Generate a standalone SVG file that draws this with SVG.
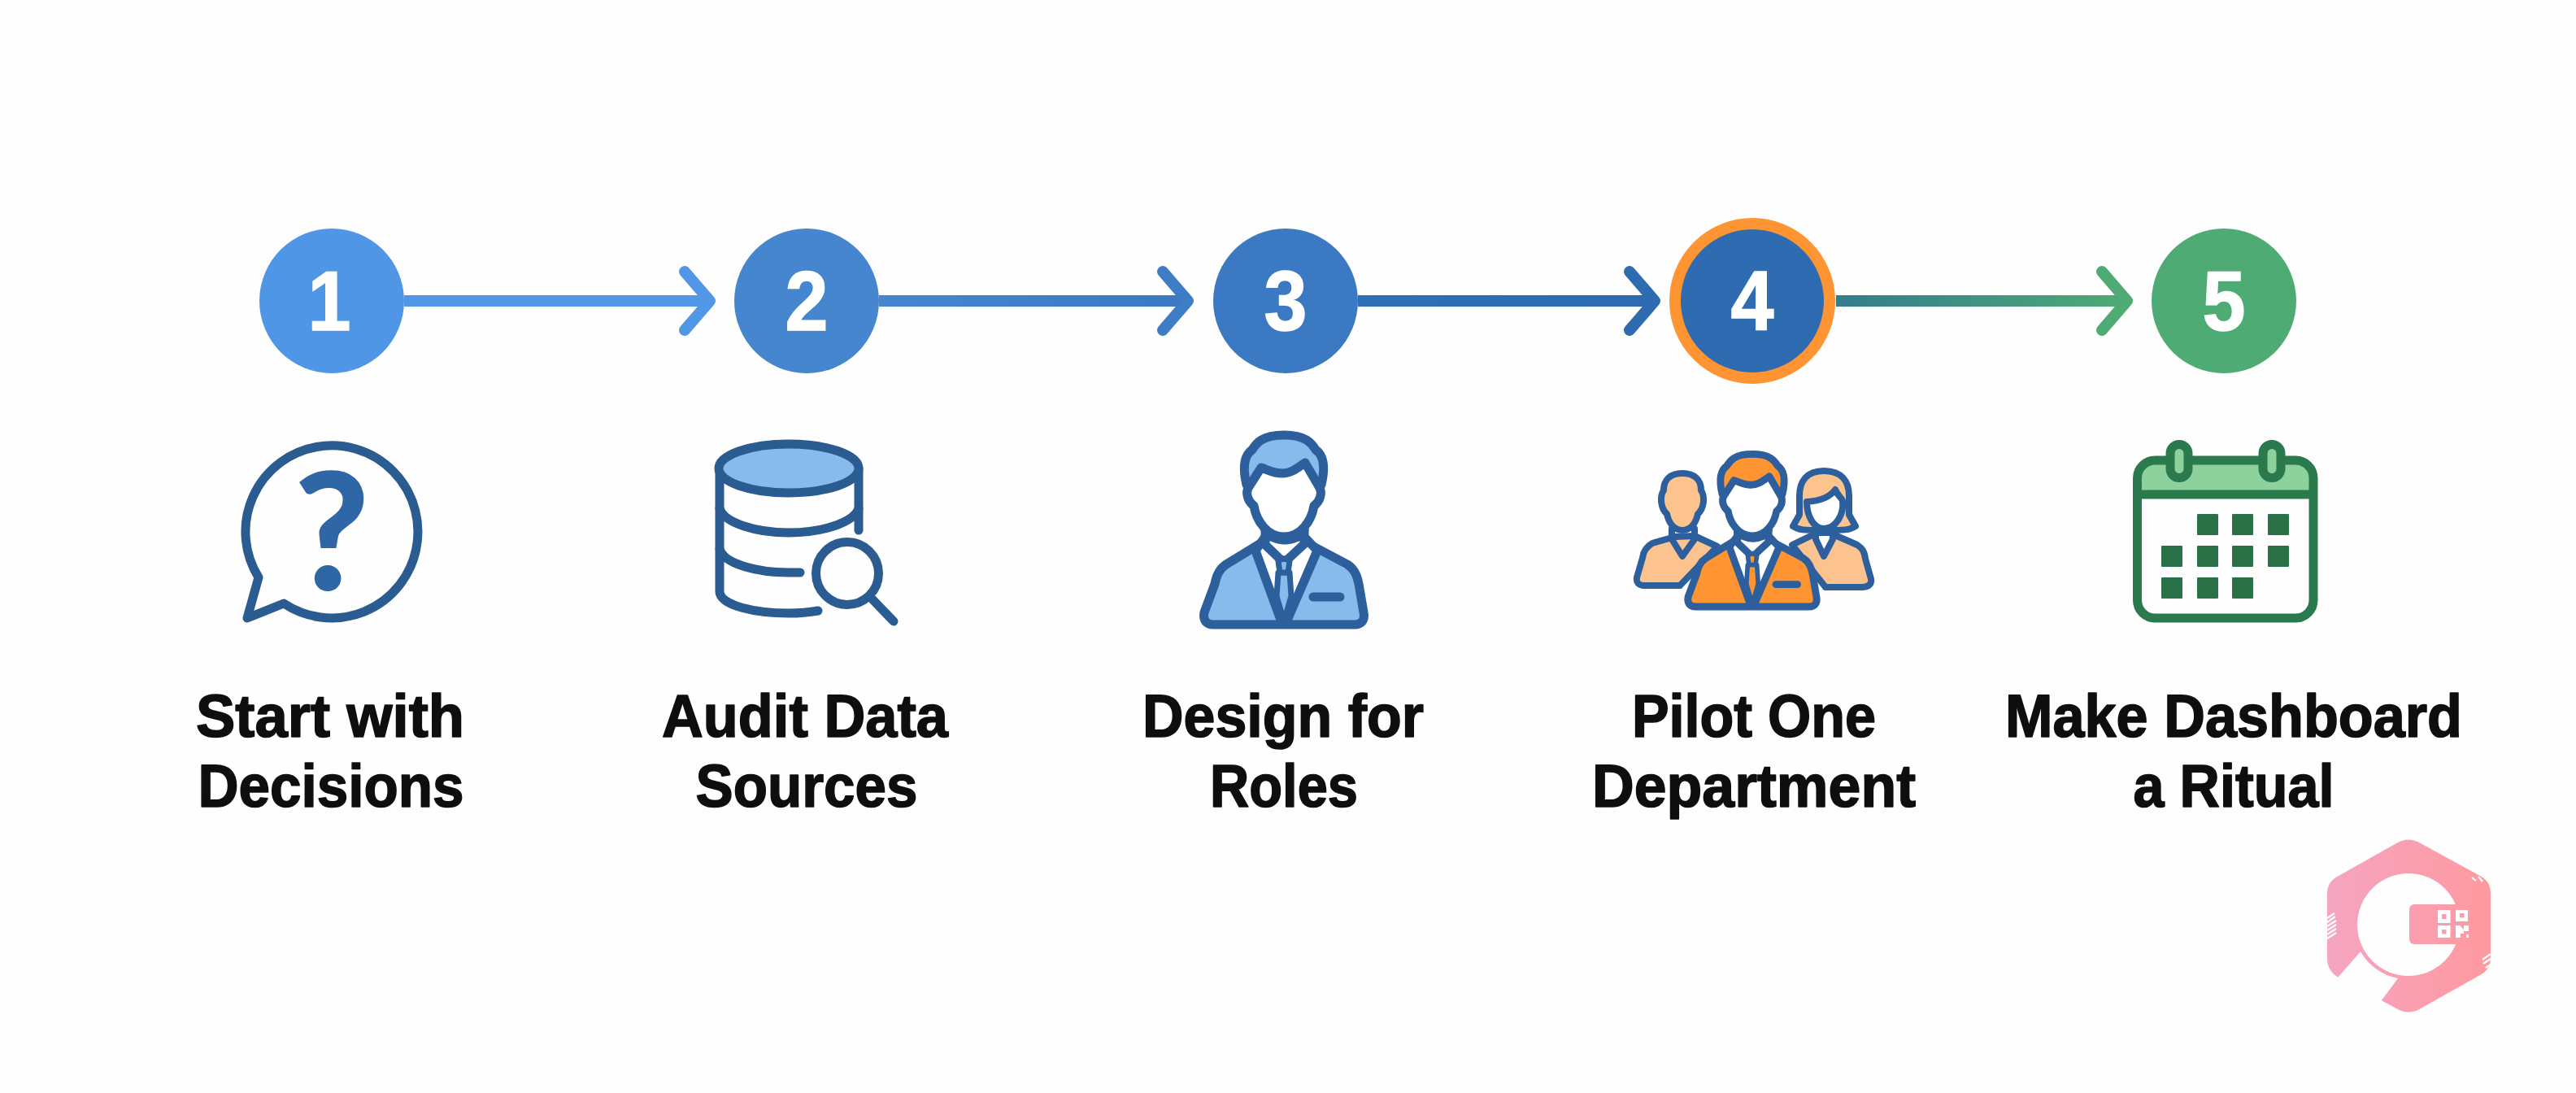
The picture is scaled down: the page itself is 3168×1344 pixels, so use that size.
<svg xmlns="http://www.w3.org/2000/svg" xmlns:xlink="http://www.w3.org/1999/xlink" width="3168" height="1344" viewBox="0 0 3168 1344">
<style>
.num{font-family:"Liberation Sans",Arial,sans-serif;font-weight:700;font-size:103px;fill:#fff;stroke:#fff;stroke-width:1.5;text-anchor:middle}
.lbl{font-family:"Liberation Sans",Arial,sans-serif;font-weight:700;font-size:74px;fill:#0e0e0e;stroke:#0e0e0e;stroke-width:1.6;stroke-linejoin:round;text-anchor:middle}
.ln{fill:none;stroke-width:14}
.ic{stroke:#2a5c92;stroke-width:11;stroke-linecap:round;stroke-linejoin:round;fill:none}
.p{stroke:#2c5f9b;stroke-width:11;stroke-linecap:round;stroke-linejoin:round}
.w{fill:#fff}.cc{fill:currentColor}.n{fill:none}
.g{stroke:#2a7a4e;stroke-width:11;stroke-linejoin:round}
.sq{fill:#2a7148}
.hatch{stroke:#fff;stroke-width:2.2;fill:none}
</style>
<defs>
<linearGradient id="g2" gradientUnits="userSpaceOnUse" x1="1081" y1="0" x2="1468" y2="0"><stop offset="0" stop-color="#4586cf"/><stop offset="1" stop-color="#3a79c1"/></linearGradient>
<linearGradient id="g3" gradientUnits="userSpaceOnUse" x1="1670" y1="0" x2="2042" y2="0"><stop offset="0" stop-color="#2f6fb6"/><stop offset="1" stop-color="#2e6bb0"/></linearGradient>
<linearGradient id="g4" gradientUnits="userSpaceOnUse" x1="2258" y1="0" x2="2623" y2="0"><stop offset="0" stop-color="#357c8e"/><stop offset="1" stop-color="#4fab74"/></linearGradient>
<linearGradient id="logoG" gradientUnits="userSpaceOnUse" x1="2862" y1="0" x2="3062" y2="0"><stop offset="0" stop-color="#f5a5c2"/><stop offset="1" stop-color="#ff999f"/></linearGradient>
<marker id="a1" markerUnits="userSpaceOnUse" markerWidth="70" markerHeight="100" refX="50" refY="50" overflow="visible"><path d="M19,14 L50,50 L19,86" fill="none" stroke="#5197e6" stroke-width="14" stroke-linecap="round" stroke-linejoin="round"/></marker>
<marker id="a2" markerUnits="userSpaceOnUse" markerWidth="70" markerHeight="100" refX="50" refY="50" overflow="visible"><path d="M19,14 L50,50 L19,86" fill="none" stroke="#3d7dc6" stroke-width="14" stroke-linecap="round" stroke-linejoin="round"/></marker>
<marker id="a3" markerUnits="userSpaceOnUse" markerWidth="70" markerHeight="100" refX="50" refY="50" overflow="visible"><path d="M19,14 L50,50 L19,86" fill="none" stroke="#2e6bb0" stroke-width="14" stroke-linecap="round" stroke-linejoin="round"/></marker>
<marker id="a4" markerUnits="userSpaceOnUse" markerWidth="70" markerHeight="100" refX="50" refY="50" overflow="visible"><path d="M19,14 L50,50 L19,86" fill="none" stroke="#4fab74" stroke-width="14" stroke-linecap="round" stroke-linejoin="round"/></marker>
<g id="person">
<path class="p cc" d="M1552,667 L1508,694 C1500,699 1496,707 1494,718 L1481,753 C1479,763 1484,768 1492,768 L1666,768 C1674,768 1679,763 1677,753 L1671,718 C1669,707 1665,699 1657,694 L1606,667 Z"/>
<path class="p w" d="M1544,677 L1556,660 L1604,660 L1620,677 L1582,765 L1576,765 Z"/>
<path class="p n" d="M1554,668 L1579,692 L1605,668"/>
<path class="p cc" style="stroke-width:7" d="M1572,704 L1570,733 L1579,764 L1588,733 L1586,704 Z"/>
<path class="p cc" style="stroke-width:7" d="M1572,690 Q1579,684 1586,690 L1584,704 L1574,704 Z"/>
<path class="p n" d="M1556,645 L1556,668 M1604,645 L1604,668"/>
<path class="p n" d="M1556,652 C1562,660 1570,664 1580,664 C1590,664 1598,660 1604,652"/>
<path class="p cc" d="M1533,596 C1528,575 1530,560 1540,553 C1545,545 1552,535 1579,535 C1606,535 1613,545 1618,553 C1628,560 1630,575 1625,596 Z"/>
<path class="p w" d="M1551,575 C1560,578 1566,582 1577,582 C1588,582 1595,576 1605,569 L1623,600 C1626,606 1624,616 1616,622 C1613,640 1600,660 1579,660 C1558,660 1545,640 1542,622 C1534,616 1532,606 1535,600 Z"/>
<path d="M1615,734 L1648,734" stroke="#2c5f9b" stroke-width="11" stroke-linecap="round"/>
</g>
</defs>
<rect width="3168" height="1344" fill="#fefefe"/>
<g id="connectors">
<line class="ln" x1="497" y1="370" x2="873" y2="370" stroke="#5197e6" marker-end="url(#a1)"/>
<line class="ln" x1="1081" y1="370" x2="1461" y2="370" stroke="url(#g2)" marker-end="url(#a2)"/>
<line class="ln" x1="1670" y1="370" x2="2035" y2="370" stroke="url(#g3)" marker-end="url(#a3)"/>
<line class="ln" x1="2258" y1="370" x2="2616" y2="370" stroke="url(#g4)" marker-end="url(#a4)"/>
</g>
<g id="step-1">
<circle cx="408" cy="370" r="89" fill="#4f96e6"/>
<text class="num" x="405" y="406" textLength="53" lengthAdjust="spacingAndGlyphs">1</text>
<path class="ic" d="M318,710 L304,760 L349,742 A106,106 0 1 0 318,710 Z"/>
<text x="408" y="726" font-family="Lato,'Liberation Sans',sans-serif" font-weight="900" font-size="200" fill="#2f66a6" text-anchor="middle">?</text>
<text class="lbl" x="406" y="906" textLength="330" lengthAdjust="spacingAndGlyphs">Start with</text>
<text class="lbl" x="407" y="992" textLength="327" lengthAdjust="spacingAndGlyphs">Decisions</text>
</g>
<g id="step-2">
<circle cx="992" cy="370" r="89" fill="#4586cf"/>
<text class="num" x="992" y="406" textLength="53" lengthAdjust="spacingAndGlyphs">2</text>
<path class="ic" d="M885,576 L885,727 C885,745 930,754 970,754 C985,754 995,753 1006,751"/>
<path class="ic" d="M885,625 C890,643 930,655 970,655 C1010,655 1050,643 1056,625"/>
<path class="ic" d="M885,675 C890,693 930,704 970,704 L984,704"/>
<path class="ic" d="M1056,576 L1056,652"/>
<ellipse class="ic" style="fill:#87bbeb" cx="970" cy="576" rx="86" ry="30"/>
<circle class="ic" cx="1042" cy="705" r="38.5"/>
<path class="ic" d="M1072,736 L1099,764"/>
<text class="lbl" x="990" y="906" textLength="352" lengthAdjust="spacingAndGlyphs">Audit Data</text>
<text class="lbl" x="992" y="992" textLength="273" lengthAdjust="spacingAndGlyphs">Sources</text>
</g>
<g id="step-3">
<circle cx="1581" cy="370" r="89" fill="#3b7ac2"/>
<text class="num" x="1581" y="406" textLength="53" lengthAdjust="spacingAndGlyphs">3</text>
<use href="#person" color="#87bbeb"/>
<text class="lbl" x="1578" y="906" textLength="346" lengthAdjust="spacingAndGlyphs">Design for</text>
<text class="lbl" x="1579" y="992" textLength="182" lengthAdjust="spacingAndGlyphs">Roles</text>
</g>
<g id="step-4">
<circle cx="2155" cy="370" r="95" fill="#2e6bb0" stroke="#ff9433" stroke-width="14"/>
<text class="num" x="2155" y="406" textLength="53" lengthAdjust="spacingAndGlyphs">4</text>
<g>
<path class="p" style="stroke-width:8;fill:#fcc38e" d="M2066,720 L2022,720 C2015,720 2012,716 2013,710 L2020,686 C2021,678 2025,672 2032,668 L2060,660 L2084,659 L2112,672 L2066,720"/>
<path class="p" style="stroke-width:8;fill:none" d="M2056,650 L2056,663 L2069,684 L2084,663 L2084,650"/>
<path class="p" style="stroke-width:8;fill:#fcc38e" d="M2069,582 C2084,582 2092,590 2092,603 C2097,610 2096,625 2088,632 C2086,642 2080,652 2069,652 C2058,652 2052,642 2050,632 C2042,625 2041,610 2046,603 C2046,590 2054,582 2069,582 Z"/>
<path class="p" style="stroke-width:8;fill:#fcc38e" d="M2245,722 L2290,722 C2298,722 2302,718 2301,712 L2294,687 C2293,678 2290,674 2284,670 L2252,656 L2233,656 L2204,670 L2245,722"/>
<path class="p w" style="stroke-width:8" d="M2233,655 L2233,663 L2243,684 L2254,663 L2254,655 Z"/>
<path class="p" style="stroke-width:8;fill:#fcc38e" d="M2243,579 C2265,579 2274,592 2274,610 L2274,633 L2282,647 C2275,652 2268,652 2243,652 C2218,652 2212,652 2205,647 L2213,633 L2213,610 C2213,592 2222,579 2243,579 Z"/>
<path class="p w" style="stroke-width:8" d="M2222,617 C2238,616 2250,612 2257,602 C2260,610 2265,612 2266,616 C2268,632 2258,650 2243,650 C2230,650 2222,634 2222,617 Z"/>
</g>
<use href="#person" color="#ff9433" transform="translate(2155,750) scale(0.805) translate(-1579,-773)"/>
<text class="lbl" x="2157" y="906" textLength="300" lengthAdjust="spacingAndGlyphs">Pilot One</text>
<text class="lbl" x="2157" y="992" textLength="398" lengthAdjust="spacingAndGlyphs">Department</text>
</g>
<g id="step-5">
<circle cx="2735" cy="370" r="89" fill="#4fab74"/>
<text class="num" x="2735" y="406" textLength="53" lengthAdjust="spacingAndGlyphs">5</text>
<path d="M2628.5,608 L2628.5,590 Q2628.5,566 2650,566 L2823,566 Q2845,566 2845,590 L2845,608 Z" fill="#8dd19c"/>
<rect class="g" x="2628.5" y="566" width="216.500" height="194" rx="22" fill="none"/>
<path class="g" d="M2628.5,608 L2845,608" fill="none"/>
<rect class="g" x="2669" y="546.500" width="22" height="41" rx="11" fill="#8dd19c"/>
<rect class="g" x="2783" y="546.500" width="22" height="41" rx="11" fill="#8dd19c"/>
<g class="sq">
<rect x="2702" y="632" width="26" height="26" rx="1"/><rect x="2745" y="632" width="26" height="26" rx="1"/><rect x="2789" y="632" width="26" height="26" rx="1"/>
<rect x="2658" y="671" width="26" height="26" rx="1"/><rect x="2702" y="671" width="26" height="26" rx="1"/><rect x="2745" y="671" width="26" height="26" rx="1"/><rect x="2789" y="671" width="26" height="26" rx="1"/>
<rect x="2658" y="710" width="26" height="26" rx="1"/><rect x="2702" y="710" width="26" height="26" rx="1"/><rect x="2745" y="710" width="26" height="26" rx="1"/>
</g>
<text class="lbl" x="2747" y="906" textLength="562" lengthAdjust="spacingAndGlyphs">Make Dashboard</text>
<text class="lbl" x="2747" y="992" textLength="247" lengthAdjust="spacingAndGlyphs">a Ritual</text>
</g>
<g id="logo">
<path d="M2947,1037 Q2962,1028 2977,1037 L3050,1077 Q3063,1084 3063,1098 L3063,1178 Q3063,1192 3050,1199 L2977,1240 Q2962,1249 2947,1240 L2876,1202 Q2862,1194 2862,1178 L2862,1098 Q2862,1084 2876,1077 Z" fill="url(#logoG)"/>
<path d="M2903,1170 L2876,1201 L2872,1215 L2900,1240 L2929,1230 L2949,1203 A68,68 0 0 1 2903,1170 Z" fill="#fefefe"/>
<circle cx="2962" cy="1137" r="63" fill="#fefefe"/>
<rect x="2963" y="1112" width="80" height="49" rx="6" fill="url(#logoG)"/>
<g fill="#fff">
<path fill-rule="evenodd" d="M2998,1119 h15.500 v16 h-15.500 Z M3003,1124 v6 h5.500 v-6 Z"/>
<path fill-rule="evenodd" d="M3020,1119 h15 v14 h-15 Z M3025,1123 v5.500 h5.500 v-5.500 Z"/>
<path fill-rule="evenodd" d="M2998,1138 h15.500 v15 h-15.500 Z M3003,1143 v5.500 h5.500 v-5.500 Z"/>
<path d="M3020,1138 h5 l5,5 v-5 h6 v7 h-6 v3 h-4 v5 h-6 Z"/>
<rect x="3033" y="1149" width="3" height="4"/>
</g>
<path class="hatch" d="M2862,1129 l9,-6 M2862,1134 l10,-7 M2862,1139 l11,-7 M2862,1144 l11,-7 M2862,1149 l11,-7 M2862,1154 l11,-7 M3053,1180 l10,-7 M3054,1185 l9,-6 M3057,1190 l6,-4 M3040,1079 l5,4 M3048,1078 l5,6"/>
</g>
</svg>
